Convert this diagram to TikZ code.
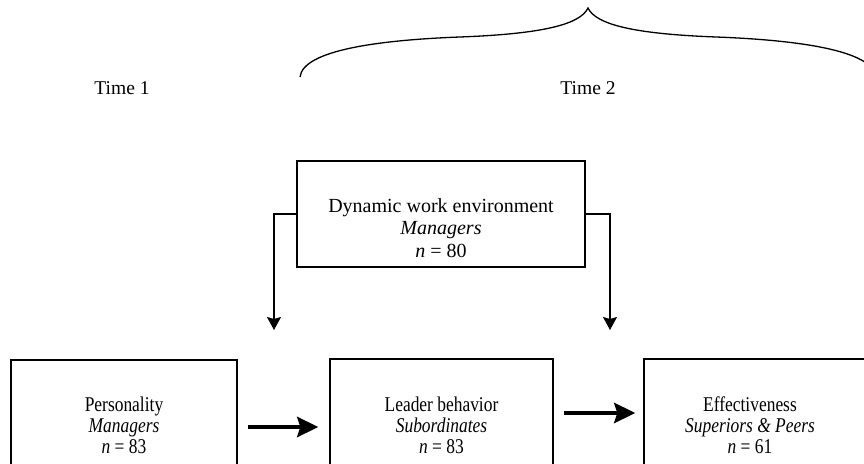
\documentclass[tikz,border=0pt]{standalone}
\usepackage{fontspec}
\setmainfont{Liberation Serif}
\newfontfamily\condserif[FakeStretch=0.83]{Liberation Serif}
\usetikzlibrary{arrows.meta}
\tikzset{
  x=1bp, y=-1bp,
  box/.style={draw, line width=1.4bp, rectangle, inner sep=0pt},
  toptext/.style={align=center, inner sep=0pt, font=\fontsize{20bp}{22.5bp}\selectfont},
  bottext/.style={align=center, inner sep=0pt, font=\condserif\fontsize{21bp}{21bp}\selectfont},
  timetext/.style={inner sep=0pt, font=\fontsize{19.5bp}{22bp}\selectfont},
  thinarrow/.style={line width=1.4bp, -{Stealth[length=13bp,width=14bp,inset=2bp]}},
  thickarrow/.style={line width=4.5bp, -{Stealth[length=21bp,width=20bp,inset=3bp]}},
  brace/.style={line width=1.3bp}
}
\begin{document}
\begin{tikzpicture}
\useasboundingbox (0,0) rectangle (864,464);
\clip (0,0) rectangle (864,464);
% Time labels
\node[timetext, anchor=base] (t1) at (122,95) {Time 1};
\node[timetext, anchor=base] (t2) at (588,95) {Time 2};
% brace
\draw[brace] (300,77) .. controls (303,50) and (380,40) .. (460,37)
  .. controls (540,34) and (580,25) .. (588,8)
  .. controls (596,25) and (636,34) .. (716,37)
  .. controls (796,40) and (873,50) .. (876,77);
% top box
\node[box, minimum width=288bp, minimum height=106bp] (env) at (441,214) {};
\node[toptext] (envtext) at (441,228) {Dynamic work environment\\ \textit{Managers}\\ \textit{n} = 80};
% bottom boxes
\node[box, minimum width=226bp, minimum height=130bp] (pers) at (124,425) {};
\node[bottext] (perstext) at (124,425) {Personality\\ \textit{Managers}\\ \textit{n} = 83};
\node[box, minimum width=223bp, minimum height=132bp] (lead) at (441.5,425) {};
\node[bottext] (leadtext) at (441.5,425) {Leader behavior\\ \textit{Subordinates}\\ \textit{n} = 83};
\node[box, minimum width=226bp, minimum height=132bp] (eff) at (757,425) {};
\node[bottext] (efftext) at (750,425) {Effectiveness\\ \textit{Superiors \& Peers}\\ \textit{n} = 61};
% moderator connectors
\coordinate (m1) at (274,330);
\coordinate (m2) at (610,330);
\draw[thinarrow] (env.west |- 0,214) -| (m1);
\draw[thinarrow] (env.east |- 0,214) -| (m2);
% main arrows
\draw[thickarrow] ([xshift=10bp]pers.east |- 0,427) -- ([xshift=-11bp]lead.west |- 0,427);
\draw[thickarrow] ([xshift=10bp]lead.east |- 0,413) -- ([xshift=-8bp]eff.west |- 0,413);
\end{tikzpicture}
\end{document}
